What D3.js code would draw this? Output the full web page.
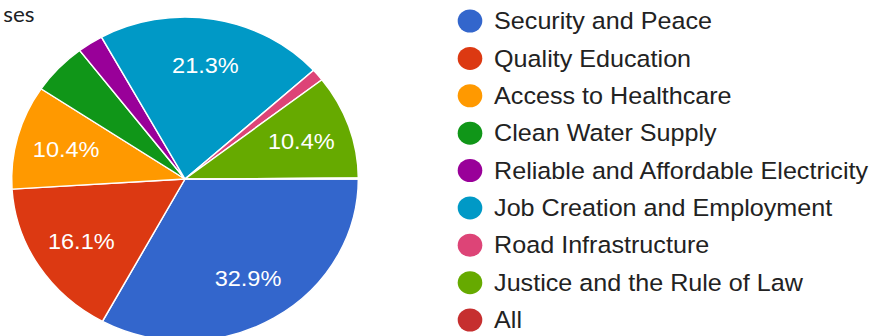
<!DOCTYPE html>
<html>
<head>
<meta charset="utf-8">
<script src="https://cdn.jsdelivr.net/npm/d3@7/dist/d3.min.js"></script>
<style>
  html, body { margin: 0; padding: 0; background: #ffffff; }
  svg { display: block; }
</style>
</head>
<body>
<svg id="chart" width="878" height="336"></svg>
<script>
// Survey answers, in slice order (clockwise from 3 o'clock)
const categories = [
  "Security and Peace",
  "Quality Education",
  "Access to Healthcare",
  "Clean Water Supply",
  "Reliable and Affordable Electricity",
  "Job Creation and Employment",
  "Road Infrastructure",
  "Justice and the Rule of Law",
  "All"
];
const shares = [32.9, 16.1, 10.4, 5.2, 2.4, 21.3, 1.2, 10.4, 0.1];
const colors = ["#3366cc", "#dc3912", "#ff9900", "#109618", "#990099",
                "#0099c6", "#dd4477", "#66aa00", "#c62f2f"];
const headerText = "ses";

const svg = d3.select("#chart");

// everything is drawn slightly wider than tall
const root = svg.append("g").attr("transform", "scale(1.07,1)");

root.append("text")
  .attr("x", 3)
  .attr("y", 22)
  .attr("font-family", "Lato, 'Open Sans', sans-serif")
  .attr("font-size", 21)
  .attr("fill", "#202124")
  .text(headerText);

const R = 162;
const cx = 185 / 1.07, cy = 179;

const data = categories.map((c, i) => ({ name: c, value: shares[i], color: colors[i] }));

const pie = d3.pie()
  .value(d => d.value)
  .sort(null)
  .startAngle(Math.PI / 2)
  .endAngle(Math.PI / 2 + 2 * Math.PI);

const arc = d3.arc().innerRadius(0).outerRadius(R);
const labelArc = d3.arc().innerRadius(R * 0.71).outerRadius(R * 0.71);

const pieG = root.append("g").attr("transform", `translate(${cx},${cy})`);
const arcs = pie(data);

pieG.selectAll("path")
  .data(arcs)
  .join("path")
  .attr("d", arc)
  .attr("fill", d => d.data.color)
  .attr("stroke", "#ffffff")
  .attr("stroke-width", 1.4)
  .attr("stroke-linejoin", "round");

pieG.selectAll("text.pct")
  .data(arcs.filter(d => d.data.value >= 10))
  .join("text")
  .attr("class", "pct")
  .attr("transform", d => `translate(${labelArc.centroid(d)})`)
  .attr("text-anchor", "middle")
  .attr("dy", "0.36em")
  .attr("font-family", "'Liberation Sans', Arial, sans-serif")
  .attr("font-size", 22)
  .attr("fill", "#ffffff")
  .text(d => d.data.value.toFixed(1) + "%");

// legend
const legendX = 470 / 1.07;
const legendY = d3.scalePoint()
  .domain(categories)
  .range([21, 320]);

const items = root.append("g").selectAll("g.item")
  .data(data)
  .join("g")
  .attr("class", "item")
  .attr("transform", d => `translate(${legendX},${legendY(d.name)})`);

items.append("circle")
  .attr("r", 11.5)
  .attr("fill", d => d.color);

items.append("text")
  .attr("x", 22.5)
  .attr("dy", "0.35em")
  .attr("font-family", "'Liberation Sans', Arial, sans-serif")
  .attr("font-size", 23.5)
  .attr("fill", "#222222")
  .text(d => d.name);
</script>
</body>
</html>
